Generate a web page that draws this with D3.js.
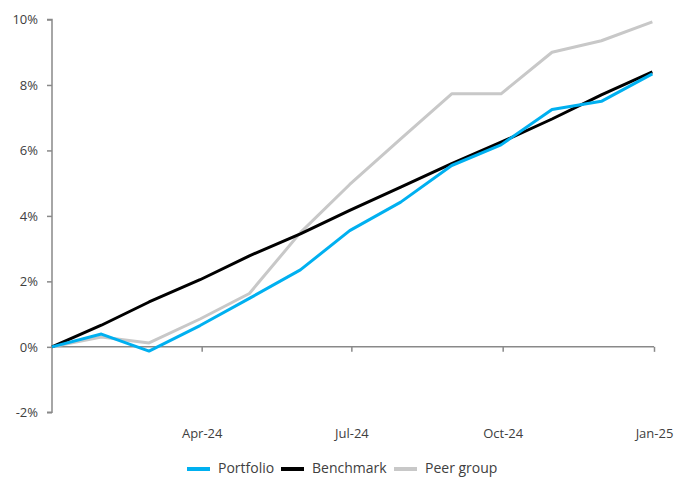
<!DOCTYPE html>
<html><head><meta charset="utf-8">
<script src="https://cdn.jsdelivr.net/npm/d3@7"></script>
<style>
html,body{margin:0;padding:0;background:#fff;}
text{font-family:"Open Sans", sans-serif;}
</style></head>
<body><svg id="c" width="676" height="477"></svg>
<script>
const dates = ["2024-01-01","2024-01-31","2024-02-29","2024-03-31","2024-04-30","2024-05-31","2024-06-30","2024-07-31","2024-08-31","2024-09-30","2024-10-31","2024-11-30","2024-12-31"];
const portfolio = [0, 0.39, -0.13, 0.65, 1.48, 2.35, 3.55, 4.42, 5.54, 6.17, 7.25, 7.50, 8.34];
const benchmark = [0, 0.66, 1.37, 2.05, 2.78, 3.45, 4.17, 4.88, 5.60, 6.25, 6.96, 7.70, 8.40];
const peerGroup = [0, 0.30, 0.12, 0.85, 1.63, 3.49, 4.96, 6.35, 7.73, 7.73, 9.00, 9.35, 9.93];
const seriesNames = ["Portfolio", "Benchmark", "Peer group"];
const xTickDates = ["2024-04-01","2024-07-01","2024-10-01","2025-01-01"];
const yTicks = [-2, 0, 2, 4, 6, 8, 10];

const colors = ["#00B0F0", "#000000", "#C8C8C8"];
const parse = d3.utcParse("%Y-%m-%d");
const svg = d3.select("#c");
const x = d3.scaleUtc().domain([parse("2024-01-01"), parse("2025-01-01")]).range([52, 654]);
const y = d3.scaleLinear().domain([-2, 10]).range([412.3, 19.5]);
const axisColor = "#898989";
const textColor = "#404040";

// Y axis
const ya = svg.append("g").attr("transform","translate(52,0)")
  .call(d3.axisLeft(y).tickValues(yTicks).tickSize(5).tickPadding(9).tickFormat(d => d + "%"));
ya.select(".domain").attr("stroke", axisColor).attr("stroke-width", 1.5).attr("d", `M-5,${y(-2)}H0V${y(10)}H-5`);
ya.selectAll(".tick line").attr("stroke", axisColor).attr("stroke-width", 1.5);
ya.selectAll(".tick text").attr("fill", textColor).style("font-size","13px").style("font-family","'Open Sans', sans-serif");

// X axis at 0%
const xa = svg.append("g").attr("transform", `translate(0,${y(0)})`)
  .call(d3.axisBottom(x).tickValues(xTickDates.map(parse)).tickSize(5).tickPadding(0).tickFormat(d3.utcFormat("%b-%y")));
xa.select(".domain").attr("stroke", axisColor).attr("stroke-width", 1.5).attr("d", `M${x.range()[0]},0H${x.range()[1]}`);
xa.selectAll(".tick line").attr("stroke", axisColor).attr("stroke-width", 1.5);
xa.selectAll(".tick text").attr("fill", textColor).style("font-size","13px").style("font-family","'Open Sans', sans-serif")
  .attr("y", y(-2) - y(0) + 26).attr("dy", "0");

// Lines
const allSeries = [portfolio, benchmark, peerGroup];
const line = d3.line().x((d,i) => x(parse(dates[i]))).y(d => y(d));
[2, 1, 0].forEach(k => {
  svg.append("path").datum(allSeries[k]).attr("d", line)
    .attr("fill","none").attr("stroke", colors[k]).attr("stroke-width", 3).attr("stroke-linejoin","round");
});

// Legend
const legendX = [187, 281, 394];
const lg = svg.append("g");
seriesNames.forEach((n, i) => {
  lg.append("line").attr("x1", legendX[i]).attr("x2", legendX[i] + 23).attr("y1", 469).attr("y2", 469)
    .attr("stroke", colors[i]).attr("stroke-width", 4);
  lg.append("text").attr("x", legendX[i] + 31).attr("y", 473).text(n)
    .attr("fill", textColor).style("font-size","14px");
});
</script></body></html>
